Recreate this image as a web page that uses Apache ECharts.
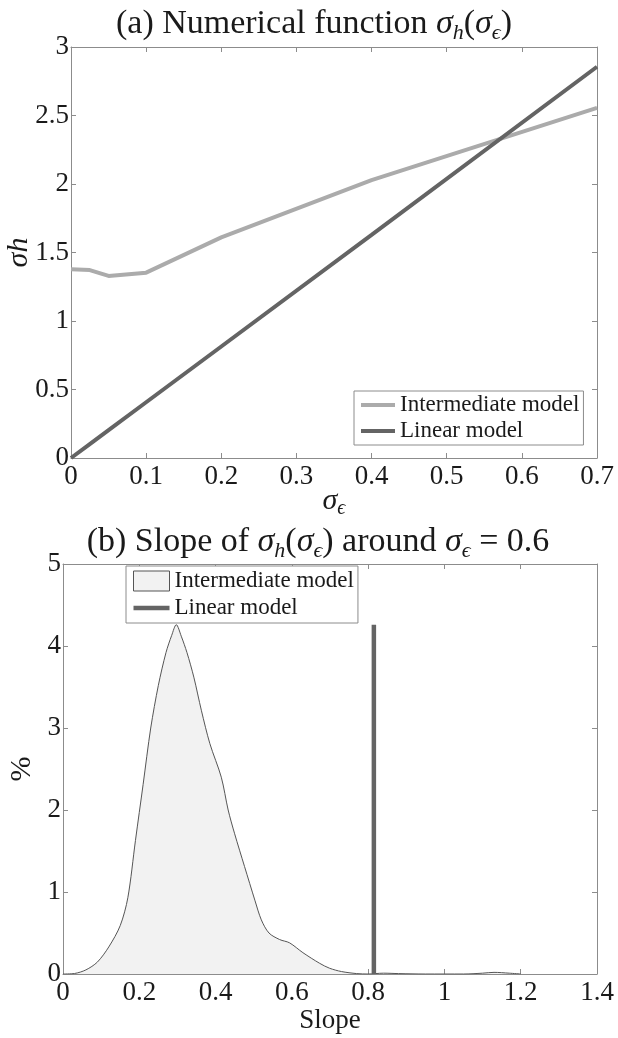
<!DOCTYPE html>
<html>
<head>
<meta charset="utf-8">
<script src="https://cdn.jsdelivr.net/npm/echarts@6/dist/echarts.min.js"></script>
<style>
  html, body { margin: 0; padding: 0; background: #fff; }
  #chart { width: 618px; height: 1038px; }
</style>
</head>
<body>
<div id="chart"></div>
<script>
// (a) sigma_h as a function of sigma_eps
const sigmaEps = [0, 0.025, 0.05, 0.1, 0.2, 0.4, 0.7];
const sigmaHIntermediate = [1.377, 1.372, 1.329, 1.353, 1.61, 2.028, 2.555];
const sigmaHLinear = [0, 0.102, 0.204, 0.407, 0.814, 1.628, 2.856];

// (b) distribution of the slope around sigma_eps = 0.6 (%)
const slopeGrid = [
  0, 0.03, 0.06, 0.09, 0.12, 0.15, 0.17, 0.19, 0.21, 0.23, 0.25, 0.27,
  0.285, 0.297, 0.31, 0.325, 0.343, 0.363, 0.385, 0.415, 0.433, 0.45,
  0.476, 0.503, 0.52, 0.54, 0.568, 0.594, 0.629, 0.673, 0.699, 0.73, 0.77,
  0.8, 0.84, 0.88, 0.95, 1.05, 1.1, 1.13, 1.17, 1.2,
];
const slopeDensity = [
  0, 0.006, 0.05, 0.145, 0.33, 0.59, 0.93, 1.63, 2.31, 3.0, 3.52, 3.92,
  4.13, 4.26, 4.12, 3.92, 3.62, 3.21, 2.81, 2.4, 2.0, 1.71,
  1.31, 0.9, 0.66, 0.5, 0.42, 0.38, 0.26, 0.13, 0.07, 0.03, 0.005,
  0, 0.01, 0.005, 0, 0, 0.01, 0.02, 0.01, 0,
];
const linearSlope = 0.815;
const linearSlopeHeight = [0, 4.26];

const xTicksA = { min: 0, max: 0.7, interval: 0.1 };
const yTicksA = { min: 0, max: 3, interval: 0.5 };
const xTicksB = { min: 0, max: 1.4, interval: 0.2 };
const yTicksB = { min: 0, max: 5, interval: 1 };

const serif = "'Liberation Serif', 'DejaVu Serif', serif";
const axisColor = '#8c8c8c';
const textColor = '#1a1a1a';
const lightGray = '#ababab';
const darkGray = '#646464';

const mathRich = {
  i: { fontFamily: serif, fontStyle: 'italic', fontSize: 30, lineHeight: 36, color: textColor },
  s: { fontFamily: serif, fontStyle: 'italic', fontSize: 20, lineHeight: 20, verticalAlign: 'bottom', color: textColor },
};
const titleRich = {
  i: { fontFamily: serif, fontStyle: 'italic', fontSize: 34, lineHeight: 40, color: textColor },
  s: { fontFamily: serif, fontStyle: 'italic', fontSize: 22, lineHeight: 22, verticalAlign: 'bottom', color: textColor },
};

function zip(xs, ys) {
  return xs.map((x, i) => [x, ys[i]]);
}

function axisStyle() {
  return {
    axisLine: { show: true, onZero: false, lineStyle: { color: axisColor, width: 1 } },
    axisTick: { show: true, inside: true, length: 5, lineStyle: { color: axisColor } },
    splitLine: { show: false },
  };
}

function xAxes(grid, ticks, name, nameGap, nameTextStyle) {
  return [
    {
      type: 'value',
      gridIndex: grid,
      position: 'bottom',
      ...ticks,
      name,
      nameLocation: 'middle',
      nameGap,
      nameMoveOverlap: false,
      nameTextStyle,
      ...axisStyle(),
      axisLabel: {
        margin: 5,
        fontFamily: serif,
        fontSize: 27,
        color: textColor,
        showMinLabel: true,
        showMaxLabel: true,
      },
    },
    {
      type: 'value',
      gridIndex: grid,
      position: 'top',
      ...ticks,
      ...axisStyle(),
      axisLabel: { show: false },
    },
  ];
}

function yAxes(grid, ticks, name, nameGap, nameTextStyle) {
  return [
    {
      type: 'value',
      gridIndex: grid,
      position: 'left',
      ...ticks,
      name,
      nameLocation: 'middle',
      nameGap,
      nameMoveOverlap: false,
      nameTextStyle,
      ...axisStyle(),
      axisLabel: {
        margin: 2,
        fontFamily: serif,
        fontSize: 27,
        color: textColor,
        showMinLabel: true,
        showMaxLabel: true,
      },
    },
    {
      type: 'value',
      gridIndex: grid,
      position: 'right',
      ...ticks,
      ...axisStyle(),
      axisLabel: { show: false },
    },
  ];
}

const chart = echarts.init(document.getElementById('chart'), null, { renderer: 'canvas' });

chart.setOption({
  animation: false,
  backgroundColor: '#fff',
  title: [
    {
      text: '(a) Numerical function {i|σ}{s|h}({i|σ}{s|ϵ})',
      left: 314,
      top: 4,
      textAlign: 'center',
      padding: 0,
      textStyle: {
        fontFamily: serif,
        fontSize: 34,
        fontWeight: 'normal',
        lineHeight: 40,
        color: textColor,
        rich: titleRich,
      },
    },
    {
      text: '(b) Slope of {i|σ}{s|h}({i|σ}{s|ϵ}) around {i|σ}{s|ϵ} = 0.6',
      left: 318,
      top: 522,
      textAlign: 'center',
      padding: 0,
      textStyle: {
        fontFamily: serif,
        fontSize: 34,
        fontWeight: 'normal',
        lineHeight: 40,
        color: textColor,
        rich: titleRich,
      },
    },
  ],
  grid: [
    { left: 71, top: 47, width: 526, height: 411, outerBoundsMode: 'none', containLabel: false },
    { left: 63, top: 564, width: 534, height: 410, outerBoundsMode: 'none', containLabel: false },
  ],
  xAxis: [
    ...xAxes(0, xTicksA, '{i|σ}{s|ϵ}', 25, { rich: mathRich }),
    ...xAxes(1, xTicksB, 'Slope', 33, { fontFamily: serif, fontSize: 27, color: textColor }),
  ],
  yAxis: [
    ...yAxes(0, yTicksA, '{i|σh}', 34, { rich: mathRich }),
    ...yAxes(1, yTicksB, '%', 26, { fontFamily: serif, fontSize: 30, color: textColor }),
  ],
  legend: [
    {
      left: 354,
      top: 391,
      orient: 'vertical',
      padding: [2, 4, 2, 7],
      itemGap: 2,
      itemWidth: 34,
      itemHeight: 4,
      icon: 'rect',
      selectedMode: false,
      backgroundColor: '#fff',
      borderColor: axisColor,
      borderWidth: 1,
      textStyle: { fontFamily: serif, fontSize: 23, lineHeight: 24, color: textColor },
      data: [
        { name: 'Intermediate model', itemStyle: { color: lightGray, borderWidth: 0 } },
        { name: 'Linear model', itemStyle: { color: darkGray, borderWidth: 0 } },
      ],
    },
    {
      left: 126,
      top: 566,
      orient: 'vertical',
      padding: [3, 4, 3, 7],
      itemGap: 3,
      itemWidth: 36,
      itemHeight: 20,
      selectedMode: false,
      backgroundColor: '#fff',
      borderColor: axisColor,
      borderWidth: 1,
      textStyle: { fontFamily: serif, fontSize: 23, lineHeight: 24, color: textColor },
      data: [
        {
          name: 'Intermediate model',
          icon: 'rect',
          itemStyle: { color: '#f2f2f2', borderColor: '#555', borderWidth: 1 },
        },
        {
          name: 'Linear model',
          icon: 'path://M0,8H36V12.6H0Z',
          itemStyle: { color: darkGray, borderWidth: 0 },
        },
      ],
    },
  ],
  series: [
    {
      name: 'Intermediate model',
      type: 'line',
      xAxisIndex: 0,
      yAxisIndex: 0,
      data: zip(sigmaEps, sigmaHIntermediate),
      showSymbol: false,
      lineStyle: { color: lightGray, width: 4 },
      itemStyle: { color: lightGray },
    },
    {
      name: 'Linear model',
      type: 'line',
      xAxisIndex: 0,
      yAxisIndex: 0,
      data: zip(sigmaEps, sigmaHLinear),
      showSymbol: false,
      lineStyle: { color: darkGray, width: 4 },
      itemStyle: { color: darkGray },
    },
    {
      name: 'Intermediate model',
      type: 'line',
      xAxisIndex: 2,
      yAxisIndex: 2,
      data: zip(slopeGrid, slopeDensity),
      showSymbol: false,
      smooth: 0.3,
      lineStyle: { color: '#555', width: 1 },
      areaStyle: { color: '#f2f2f2', opacity: 1 },
      itemStyle: { color: '#555' },
    },
    {
      name: 'Linear model',
      type: 'line',
      xAxisIndex: 2,
      yAxisIndex: 2,
      data: linearSlopeHeight.map((v) => [linearSlope, v]),
      showSymbol: false,
      lineStyle: { color: darkGray, width: 4.5, cap: 'butt' },
      itemStyle: { color: darkGray },
    },
  ],
});
</script>
</body>
</html>
